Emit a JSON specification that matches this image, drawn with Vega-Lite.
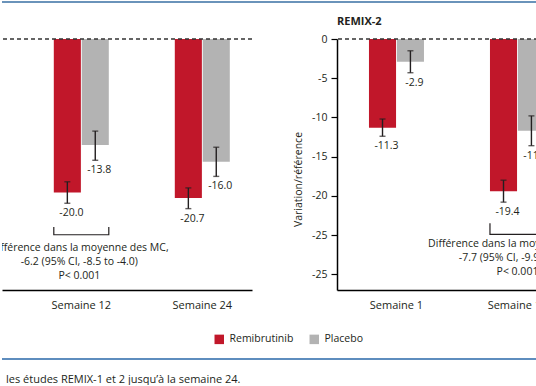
{
  "$schema": "https://vega.github.io/schema/vega-lite/v6.json",
  "padding": 0,
  "background": "white",
  "config": {
    "font": "Open Sans",
    "view": {"stroke": null},
    "axis": {"labelFont": "Open Sans", "titleFont": "Open Sans", "labelColor": "#231F20", "titleColor": "#231F20", "titleFontWeight": "normal", "domainColor": "#000000", "tickColor": "#000000"},
    "text": {"font": "Open Sans", "color": "#231F20"}
  },
  "datasets": {
    "bars": [
      {"study": "REMIX-1", "week": "Semaine 12", "treatment": "Remibrutinib", "value": -20.0, "lo": -21.4, "hi": -18.6},
      {"study": "REMIX-1", "week": "Semaine 12", "treatment": "Placebo", "value": -13.8, "lo": -15.8, "hi": -12.0},
      {"study": "REMIX-1", "week": "Semaine 24", "treatment": "Remibrutinib", "value": -20.7, "lo": -22.1, "hi": -19.4},
      {"study": "REMIX-1", "week": "Semaine 24", "treatment": "Placebo", "value": -16.0, "lo": -17.9, "hi": -14.1},
      {"study": "REMIX-2", "week": "Semaine 1", "treatment": "Remibrutinib", "value": -11.3, "lo": -12.4, "hi": -10.2},
      {"study": "REMIX-2", "week": "Semaine 1", "treatment": "Placebo", "value": -2.9, "lo": -4.3, "hi": -1.5},
      {"study": "REMIX-2", "week": "Semaine 12", "treatment": "Remibrutinib", "value": -19.4, "lo": -20.8, "hi": -18.0},
      {"study": "REMIX-2", "week": "Semaine 12", "treatment": "Placebo", "value": -11.7, "lo": -13.6, "hi": -9.8}
    ],
    "notes": [
      {"study": "REMIX-1", "week": "Semaine 12", "lines": ["Différence dans la moyenne des MC,", "-6.2 (95% CI, -8.5 to -4.0)", "P< 0.001"]},
      {"study": "REMIX-2", "week": "Semaine 12", "lines": ["Différence dans la moyenne des MC,", "-7.7 (95% CI, -9.9 to -5.5)", "P< 0.001"]}
    ]
  },
  "spacing": 12,
  "vconcat": [
    {
      "width": 536, "height": 2,
      "data": {"values": [{}]},
      "mark": {"type": "rule", "color": "#6A93BA", "strokeWidth": 2.2},
      "encoding": {"y": {"datum": 0.5, "type": "quantitative", "scale": {"domain": [0, 1]}, "axis": null}}
    },
    {
      "hconcat": [
        {
          "width": 250, "height": 251,
          "layer": [
            {
              "data": {"name": "bars"},
              "transform": [{"filter": "datum.study == 'REMIX-1'"}, {"calculate": "replace(format(datum.value, '.1f'), '\u2212', '-')", "as": "label"}],
              "layer": [
                {"mark": {"type": "bar", "clip": true},
                 "encoding": {"color": {"field": "treatment", "type": "nominal", "scale": {"domain": ["Remibrutinib", "Placebo"], "range": ["#C1172A", "#B3B3B3"]},
                   "legend": {"orient": "none", "legendX": 212, "legendY": 333, "direction": "horizontal", "title": null, "symbolType": "square", "symbolSize": 90, "symbolStrokeWidth": 0, "labelFontSize": 10.5, "labelFont": "Open Sans", "labelColor": "#231F20", "columnPadding": 15, "labelOffset": 5}}}},
                {"mark": {"type": "rule", "color": "#231F20", "strokeWidth": 1.4, "clip": true},
                 "encoding": {"y": {"field": "lo", "type": "quantitative"}, "y2": {"field": "hi"}}},
                {"mark": {"type": "tick", "orient": "horizontal", "size": 6, "thickness": 1.4, "color": "#231F20", "clip": true},
                 "encoding": {"y": {"field": "lo", "type": "quantitative"}}},
                {"mark": {"type": "tick", "orient": "horizontal", "size": 6, "thickness": 1.4, "color": "#231F20", "clip": true},
                 "encoding": {"y": {"field": "hi", "type": "quantitative"}}},
                {"mark": {"type": "text", "baseline": "middle", "dx": 4, "dy": 10, "fontSize": 10.5, "clip": true},
                 "encoding": {"y": {"field": "lo", "type": "quantitative"}, "text": {"field": "label"}}}
              ],
              "encoding": {
                "x": {"field": "week", "type": "nominal", "title": null, "scale": {"paddingInner": 0.5455, "paddingOuter": 0.3058, "align": 0.7},
                  "axis": {"labelAngle": 0, "ticks": false, "domainWidth": 1.5, "labelPadding": 9, "labelFontSize": 11}},
                "xOffset": {"field": "treatment", "type": "nominal", "sort": ["Remibrutinib", "Placebo"], "scale": {"paddingInner": 0.03}},
                "y": {"field": "value", "type": "quantitative", "scale": {"domain": [-32.7, 0], "nice": false}, "axis": null}
              }
            },
            {
              "data": {"values": [{}]},
              "mark": {"type": "rule", "strokeDash": [4, 3], "color": "#333333", "strokeWidth": 1.3},
              "encoding": {"y": {"datum": 0, "type": "quantitative"}}
            },
            {
              "data": {"name": "notes"},
              "transform": [{"filter": "datum.study == 'REMIX-1'"}],
              "layer": [
                {"mark": {"type": "text", "baseline": "top", "align": "center", "lineHeight": 14, "fontSize": 10.5, "dx": -2, "clip": true},
                 "encoding": {"x": {"field": "week", "type": "nominal"}, "y": {"datum": -26.6, "type": "quantitative"}, "text": {"field": "lines"}}},
                {"mark": {"type": "bar", "filled": false, "color": "#231F20", "strokeWidth": 1.2, "strokeDash": [0, 55, 500], "clip": true},
                 "encoding": {"x": {"field": "week", "type": "nominal"}, "y": {"datum": -24.5, "type": "quantitative"}, "y2": {"datum": -25.5}}}
              ]
            }
          ]
        },
        {
          "width": 250, "height": 251,
          "title": {"text": "REMIX-2", "anchor": "start", "frame": "group", "fontSize": 11, "fontWeight": "bold", "font": "Open Sans", "color": "#231F20", "offset": 7},
          "layer": [
            {
              "data": {"name": "bars"},
              "transform": [{"filter": "datum.study == 'REMIX-2'"}, {"calculate": "replace(format(datum.value, '.1f'), '\u2212', '-')", "as": "label"}],
              "layer": [
                {"mark": {"type": "bar", "clip": true},
                 "encoding": {"color": {"field": "treatment", "type": "nominal"}}},
                {"mark": {"type": "rule", "color": "#231F20", "strokeWidth": 1.4, "clip": true},
                 "encoding": {"y": {"field": "lo", "type": "quantitative"}, "y2": {"field": "hi"}}},
                {"mark": {"type": "tick", "orient": "horizontal", "size": 6, "thickness": 1.4, "color": "#231F20", "clip": true},
                 "encoding": {"y": {"field": "lo", "type": "quantitative"}}},
                {"mark": {"type": "tick", "orient": "horizontal", "size": 6, "thickness": 1.4, "color": "#231F20", "clip": true},
                 "encoding": {"y": {"field": "hi", "type": "quantitative"}}},
                {"mark": {"type": "text", "baseline": "middle", "dx": 4, "dy": 10, "fontSize": 10.5, "clip": true},
                 "encoding": {"y": {"field": "lo", "type": "quantitative"}, "text": {"field": "label"}}}
              ],
              "encoding": {
                "x": {"field": "week", "type": "nominal", "title": null, "scale": {"paddingInner": 0.5455, "paddingOuter": 0.3058, "align": 0.432},
                  "axis": {"labelAngle": 0, "ticks": false, "domainWidth": 1.5, "labelPadding": 9, "labelFontSize": 11}},
                "xOffset": {"field": "treatment", "type": "nominal", "sort": ["Remibrutinib", "Placebo"], "scale": {"paddingInner": 0.03}},
                "y": {"field": "value", "type": "quantitative", "scale": {"domain": [-32, 0], "nice": false},
                  "axis": {"title": "Variation/référence", "values": [0, -5, -10, -15, -20, -25, -30], "labelExpr": "datum.value == -30 ? '-25' : replace(datum.label, '\u2212', '-')", "grid": false, "tickSize": 6, "tickWidth": 1.2, "labelPadding": 4, "domainWidth": 1.5, "labelFontSize": 10.5, "titleFontSize": 10.5, "titlePadding": 8, "titleY": 140}}
              }
            },
            {
              "data": {"values": [{}]},
              "mark": {"type": "rule", "strokeDash": [4, 3], "color": "#333333", "strokeWidth": 1.3},
              "encoding": {"y": {"datum": 0, "type": "quantitative"}}
            },
            {
              "data": {"name": "notes"},
              "transform": [{"filter": "datum.study == 'REMIX-2'"}],
              "layer": [
                {"mark": {"type": "text", "baseline": "top", "align": "center", "lineHeight": 14, "fontSize": 10.5, "clip": true},
                 "encoding": {"x": {"field": "week", "type": "nominal"}, "y": {"datum": -25.5, "type": "quantitative"}, "text": {"field": "lines"}}},
                {"mark": {"type": "bar", "filled": false, "color": "#231F20", "strokeWidth": 1.2, "strokeDash": [0, 55, 500], "clip": true},
                 "encoding": {"x": {"field": "week", "type": "nominal"}, "y": {"datum": -23.5, "type": "quantitative"}, "y2": {"datum": -24.9}}}
              ]
            }
          ]
        }
      ],
      "spacing": 85,
      "bounds": "flush",
      "resolve": {"scale": {"xOffset": "independent"}}
    },
    {
      "width": 536, "height": 37,
      "data": {"values": [{}]},
      "title": {"text": "les études REMIX-1 et 2 jusqu’à la semaine 24.", "orient": "bottom", "anchor": "start", "frame": "group", "fontSize": 11, "fontWeight": "normal", "font": "Open Sans", "color": "#231F20", "dx": 4, "offset": 14},
      "mark": {"type": "rule", "color": "#5E8DBE", "strokeWidth": 2},
      "encoding": {"y": {"datum": 0, "type": "quantitative", "scale": {"domain": [0, 1]}, "axis": null}}
    }
  ]
}
